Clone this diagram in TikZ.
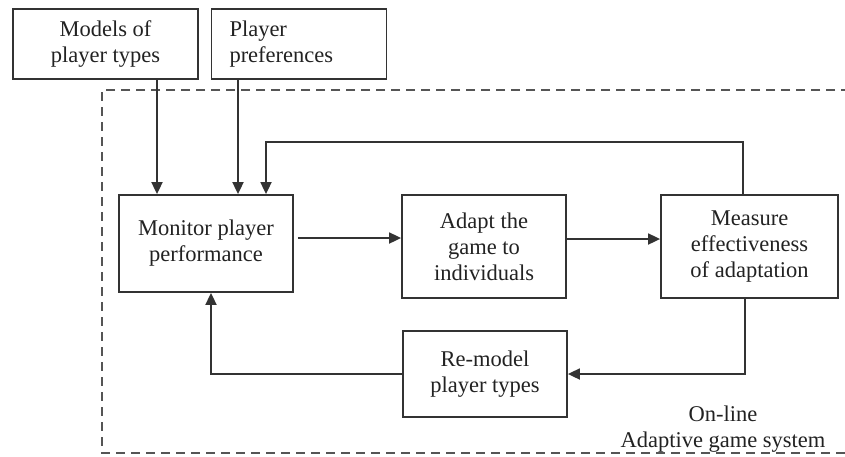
\documentclass[tikz,border=0pt]{standalone}
\usepackage{fontspec}
\setmainfont{Liberation Serif}
\usetikzlibrary{arrows.meta,calc}
\definecolor{linec}{HTML}{333333}
\definecolor{dashc}{HTML}{555555}
\definecolor{textc}{HTML}{222222}
\begin{document}
\begin{tikzpicture}[x=1pt,y=-1pt,
  boxst/.style={draw=linec,line width=1.8pt,align=center,inner sep=0pt,text=textc,
    font=\fontsize{22.5}{26}\selectfont},
  arr/.style={draw=linec,line width=1.8pt,-{Triangle[length=12pt,width=11pt]}},
  lbl/.style={align=center,text=textc,font=\fontsize{22.5}{26}\selectfont}]
\useasboundingbox (0,0) rectangle (845,456);
\fill[white] (0,0) rectangle (845,456);
% dashed frame
\draw[dashc,line width=1.8pt,dash pattern=on 9pt off 6pt] (850,90) -- (102,90) -- (102,453) -- (850,453);
% boxes
\node[boxst,minimum width=185pt,minimum height=70pt] (models) at (105.5,44) {Models of\\player types};
\node[boxst,minimum width=175pt,minimum height=70pt,text width=139pt,inner xsep=18pt,align=left] (prefs) at (299,44) {Player\\preferences};
\node[boxst,minimum width=174pt,minimum height=97pt] (monitor) at (206,243.5) {Monitor player\\performance};
\node[boxst,minimum width=164pt,minimum height=103pt] (adapt) at (484,246.5) {Adapt the\\game to\\individuals};
\node[boxst,minimum width=177pt,minimum height=103pt] (measure) at (749.5,246.5) {Measure\\effectiveness\\of adaptation};
\node[boxst,minimum width=164pt,minimum height=86pt] (remodel) at (485,374) {Re-model\\player types};
\node[lbl] (online) at (723,429) {On-line\\Adaptive game system};
% helper coordinates
\coordinate (c1) at (157,0);
\coordinate (c2) at (238,0);
\coordinate (c3) at (743,142);
\coordinate (c4) at (266,142);
\coordinate (c5) at (0,238);
\coordinate (c5b) at (0,239);
\coordinate (c6) at (745,0);
\coordinate (c7) at (211,0);
% connectors
\draw[arr] (c1 |- models.south) -- (c1 |- monitor.north);
\draw[arr] (c2 |- prefs.south) -- (c2 |- monitor.north);
\draw[arr] (c3 |- measure.north) -- (c3) -- (c4) -- (c4 |- monitor.north);
\draw[arr] ($(monitor.east |- c5)+(4,0)$) -- (adapt.west |- c5);
\draw[arr] (adapt.east |- c5b) -- (measure.west |- c5b);
\draw[arr] (c6 |- measure.south) |- (remodel.east);
\draw[arr] (remodel.west) -| (c7 |- monitor.south);
\end{tikzpicture}
\end{document}
